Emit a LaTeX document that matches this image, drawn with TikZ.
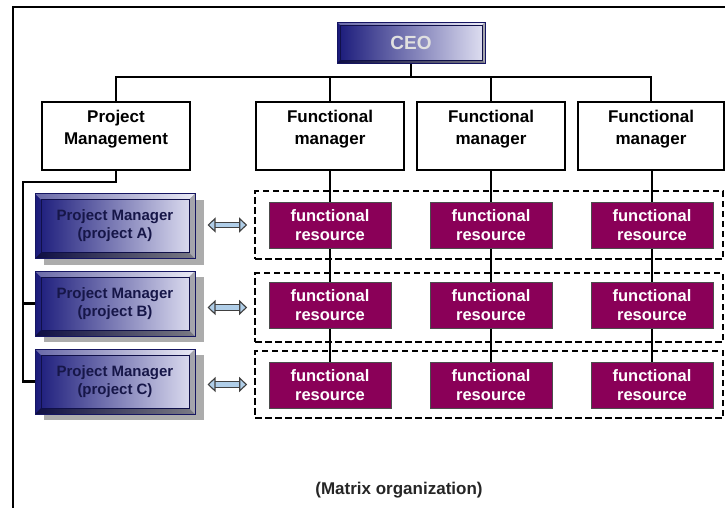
\documentclass[tikz,border=0pt]{standalone}
\usepackage{fontspec}
\setmainfont{Liberation Sans}
\usepackage{tikz}
\usetikzlibrary{%
  arrows.meta, positioning, calc, shadows}
\definecolor{orgNavy}{RGB}{26, 26, 122}
\definecolor{orgLilac}{RGB}{224, 224, 242}
\definecolor{orgPlum}{RGB}{138, 0, 88}
\definecolor{orgText}{RGB}{22, 22, 72}
\definecolor{arrowBlue}{RGB}{176, 206, 232}
\tikzset{
    orgLine/.style={line width=2.2pt, black},
    mgrBox/.style={draw, line width=2pt, fill=white, minimum width=148pt,
        minimum height=68pt, align=center, font=\fontsize{17}{22}\selectfont\bfseries,
        inner sep=0pt, text height=42pt, text depth=26pt},
    bevelBox/.style={draw=orgNavy!80!black, line width=1pt, left color=orgNavy,
        right color=orgLilac, inner sep=0pt, align=center,
        path picture={
            \fill[white, opacity=0.35] (path picture bounding box.north west)
                -- (path picture bounding box.north east)
                -- ([shift={(-#1,-#1)}]path picture bounding box.north east)
                -- ([shift={(#1,-#1)}]path picture bounding box.north west) -- cycle;
            \fill[black, opacity=0.45] (path picture bounding box.south west)
                -- (path picture bounding box.south east)
                -- ([shift={(-#1,#1)}]path picture bounding box.south east)
                -- ([shift={(#1,#1)}]path picture bounding box.south west) -- cycle;
            \fill[gray, opacity=0.6] (path picture bounding box.north east)
                -- (path picture bounding box.south east)
                -- ([shift={(-#1,#1)}]path picture bounding box.south east)
                -- ([shift={(-#1,-#1)}]path picture bounding box.north east) -- cycle;
            \draw[orgNavy!60!black, line width=0.6pt]
                ([shift={(#1,-#1)}]path picture bounding box.north west) rectangle
                ([shift={(-#1,#1)}]path picture bounding box.south east);
        }},
    pmBox/.style={bevelBox=6pt, minimum width=160pt, minimum height=65pt,
        text=orgText, font=\fontsize{15}{18}\selectfont\bfseries,
        drop shadow={shadow xshift=9pt, shadow yshift=-6pt, fill=gray!65, opacity=1}},
    resBox/.style={draw=black!70, line width=1pt, fill=orgPlum, text=white,
        minimum width=122pt, minimum height=46pt, inner sep=0pt, align=center,
        font=\fontsize{16.5}{19}\selectfont\bfseries},
    groupBox/.style={draw, line width=1.7pt, dash pattern=on 6.5pt off 3.5pt,
        minimum width=468pt, inner sep=0pt},
    biArrow/.style={line width=1.1pt, draw=black!75, double=arrowBlue,
        double distance=4.5pt,
        {Triangle[open, fill=arrowBlue, length=8pt, width=15pt]}-%
        {Triangle[open, fill=arrowBlue, length=8pt, width=15pt]}},
}

\begin{document}
\begin{tikzpicture}[x=1pt, y=-1pt]

    % Canvas and frame
    \useasboundingbox (0,0) rectangle (725,507);
    \fill[white] (0,0) rectangle (725,507);
    \draw[line width=2.4pt] (13,510) -- (13,7) -- (728,7);

    % Top of the hierarchy
    \node[bevelBox=3pt, minimum width=148pt, minimum height=41pt,
          text=white!88!black, font=\fontsize{19}{21}\selectfont\bfseries]
        (ceo) at (411,42.5) {CEO};

    % Second level
    \node[mgrBox] (pmg) at (116,136) {Project\\Management};
    \node[mgrBox] (fmA) at (330,136) {Functional\\manager};
    \node[mgrBox] (fmB) at (491,136) {Functional\\manager};
    \node[mgrBox, minimum width=146pt] (fmC) at (651,136) {Functional\\manager};

    % Reporting lines from the CEO
    \coordinate (bus) at (411,77);
    \draw[orgLine] (ceo.south) -- (bus);
    \draw[orgLine] (pmg.north) |- (bus) -| (fmC.north);
    \draw[orgLine] (fmA.north) -- (fmA.north |- bus);
    \draw[orgLine] (fmB.north) -- (fmB.north |- bus);

    % Project groups (dashed)
    \node[groupBox, minimum height=68pt] (grpA) at (489,225) {};
    \node[groupBox, minimum height=69pt] (grpB) at (489,307.5) {};
    \node[groupBox, minimum height=67pt] (grpC) at (489,384.5) {};

    % Project managers
    \node[pmBox] (pmA) at (115,226) {Project Manager\\(project A)};
    \node[pmBox] (pmB) at (115,303.5) {Project Manager\\(project B)};
    \node[pmBox] (pmC) at (115,381.5) {Project Manager\\(project C)};

    % Rail from project management
    \coordinate (pmRail) at (23,182);
    \draw[orgLine] (pmg.south) |- (pmRail) |- (pmC.west);
    \draw[orgLine] (pmRail) |- (pmB.west);

    % Functional resources
    \node[resBox] (resA1) at (330,225.5) {functional\\resource};
    \node[resBox] (resB1) at (491,225.5) {functional\\resource};
    \node[resBox] (resC1) at (652,225.5) {functional\\resource};
    \node[resBox] (resA2) at (330,305) {functional\\resource};
    \node[resBox] (resB2) at (491,305) {functional\\resource};
    \node[resBox] (resC2) at (652,305) {functional\\resource};
    \node[resBox] (resA3) at (330,385.5) {functional\\resource};
    \node[resBox] (resB3) at (491,385.5) {functional\\resource};
    \node[resBox] (resC3) at (652,385.5) {functional\\resource};

    % Functional reporting lines
    \draw[orgLine] (fmA.south) -- (resA1.north) (resA1.south) -- (resA2.north)
        (resA2.south) -- (resA3.north);
    \draw[orgLine] (fmB.south) -- (resB1.north) (resB1.south) -- (resB2.north)
        (resB2.south) -- (resB3.north);
    \draw[orgLine] (fmC.south -| resC1.north) -- (resC1.north) (resC1.south) -- (resC2.north)
        (resC2.south) -- (resC3.north);

    % Project <-> resource links
    \draw[biArrow, shorten <=12pt, shorten >=7pt] (pmA.east |- grpA.west) -- (grpA.west);
    \draw[biArrow, shorten <=12pt, shorten >=7pt] (pmB.east |- grpB.west) -- (grpB.west);
    \draw[biArrow, shorten <=12pt, shorten >=7pt] (pmC.east |- grpC.west) -- (grpC.west);

    % Caption
    \node[font=\fontsize{17}{19}\selectfont\bfseries, text=black!85] (caption)
        at (399,490) {(Matrix organization)};

\end{tikzpicture}
\end{document}
